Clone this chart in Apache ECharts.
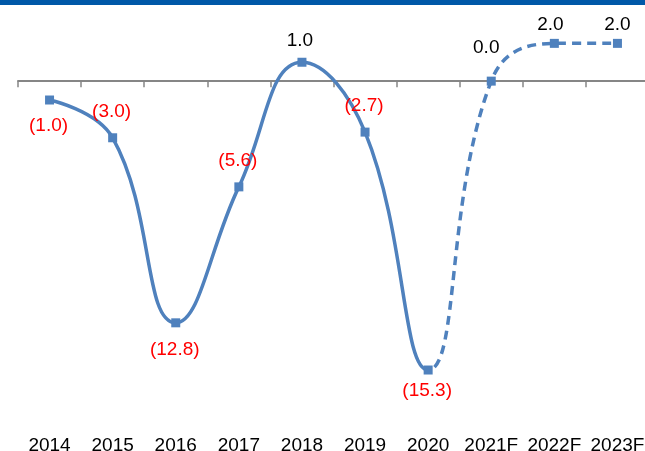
<!DOCTYPE html>
<html>
<head>
<meta charset="utf-8">
<script src="https://cdn.jsdelivr.net/npm/echarts@6/dist/echarts.min.js"></script>
<style>
html,body{margin:0;padding:0;background:#fff;}
#chart{width:645px;height:451px;}
</style>
</head>
<body>
<div id="chart"></div>
<script>
var categories = ['2014','2015','2016','2017','2018','2019','2020','2021F','2022F','2023F'];
var actualValues = [-1.0, -3.0, -12.8, -5.6, 1.0, -2.7, -15.3, null, null, null];
var forecastValues = [null, null, null, null, null, null, -15.3, 0.0, 2.0, 2.0];

// label placement relative to each point (config, not data)
var labelOffsets = [[-1,26],[-1,-26],[-1,27],[-1,-26],[-2,-21],[-1,-26],[-1,21],[-5,-33],[-4,-19],[0,-19]];

var BLUE = '#4F81BD';
var FONT = '"Liberation Sans", Arial, sans-serif';
var FS = 19;

// combined values (actual first, forecast where no actual)
var allValues = categories.map(function(c, i){
  return actualValues[i] !== null ? actualValues[i] : forecastValues[i];
});
var forecastStart = forecastValues.findIndex(function(v){ return v !== null; });

function fmt(v){
  return v < 0 ? '(' + Math.abs(v).toFixed(1) + ')' : v.toFixed(1);
}
var pointData = allValues.map(function(v, i){
  return {
    value: v,
    label: {
      show: true,
      position: 'inside',
      offset: labelOffsets[i],
      formatter: fmt(v),
      color: v < 0 ? '#FF0000' : '#000000',
      fontSize: FS,
      fontFamily: FONT
    }
  };
});
var lineData = allValues.map(function(v, i){ return [i, v]; });

// layout
var LEFT = 18, CAT_W = 63.1, N = categories.length;
var TOP = 5.6, HEIGHT = 415.4;
var YMIN = -18, YMAX = 4;

var chart = echarts.init(document.getElementById('chart'), null, {renderer:'canvas'});
chart.setOption({
  animation: false,
  backgroundColor: '#ffffff',
  graphic: [{
    type: 'rect', left: 0, top: 0, z: 10,
    shape: {width: 645, height: 5},
    style: {fill: '#0058A8'}
  }],
  grid: [
    {left: LEFT, width: CAT_W * N, top: TOP, height: HEIGHT, containLabel: false, outerBoundsMode: 'none'},
    {left: LEFT, width: CAT_W * (forecastStart + 0.5), top: TOP, height: HEIGHT, containLabel: false, outerBoundsMode: 'none'},
    {left: LEFT + CAT_W * (forecastStart + 0.5), width: CAT_W * (N - forecastStart - 0.5), top: TOP, height: HEIGHT, containLabel: false, outerBoundsMode: 'none'}
  ],
  xAxis: [{
    type: 'category',
    gridIndex: 0,
    data: categories,
    boundaryGap: true,
    position: 'bottom',
    axisLine: {show: true, onZero: true, lineStyle: {color: '#868686', width: 2}},
    axisTick: {show: true, length: 6, lineStyle: {color: '#868686', width: 1.5}},
    axisLabel: {show: false},
    splitLine: {show: false}
  }, {
    type: 'category',
    gridIndex: 0,
    data: categories,
    boundaryGap: true,
    position: 'bottom',
    axisLine: {show: false, onZero: false},
    axisTick: {show: false},
    axisLabel: {show: true, margin: 15, fontSize: FS, color: '#000', fontFamily: FONT, interval: 0},
    splitLine: {show: false}
  }, {
    type: 'value', gridIndex: 1, show: false, min: -0.5, max: forecastStart,
    splitLine: {show: false}
  }, {
    type: 'value', gridIndex: 2, show: false, min: forecastStart, max: N - 0.5,
    splitLine: {show: false}
  }],
  yAxis: [
    {type: 'value', gridIndex: 0, min: YMIN, max: YMAX, show: false, splitLine: {show: false}},
    {type: 'value', gridIndex: 1, min: YMIN, max: YMAX, show: false, splitLine: {show: false}},
    {type: 'value', gridIndex: 2, min: YMIN, max: YMAX, show: false, splitLine: {show: false}}
  ],
  series: [{
    // solid actual line (clipped to actual region)
    type: 'line',
    xAxisIndex: 2, yAxisIndex: 1,
    data: lineData,
    smooth: 0.45,
    smoothConstraint: false,
    showSymbol: false,
    clip: true,
    lineStyle: {color: BLUE, width: 3.5},
    z: 2
  }, {
    // dashed forecast line (clipped to forecast region)
    type: 'line',
    xAxisIndex: 3, yAxisIndex: 2,
    data: lineData,
    smooth: 0.45,
    smoothConstraint: false,
    showSymbol: false,
    clip: true,
    lineStyle: {color: BLUE, width: 3.5, type: [9, 6]},
    z: 2
  }, {
    // markers and data labels
    type: 'line',
    xAxisIndex: 0, yAxisIndex: 0,
    data: pointData,
    symbol: 'rect',
    symbolSize: 9,
    lineStyle: {width: 0, opacity: 0},
    itemStyle: {color: BLUE},
    z: 5
  }]
});
</script>
</body>
</html>
